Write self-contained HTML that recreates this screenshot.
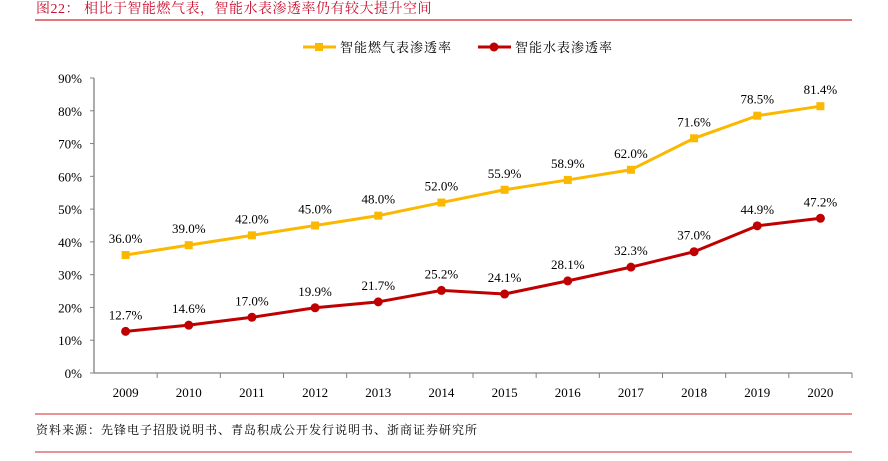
<!DOCTYPE html>
<html><head><meta charset="utf-8"><style>
body{margin:0;background:#fff;width:888px;height:456px;overflow:hidden;font-family:"Liberation Serif","Noto Serif CJK SC",serif}
svg text{font-family:"Liberation Serif","Noto Serif CJK SC",serif}
</style></head><body>
<svg id="c" width="888" height="456">
<text x="36" y="13" font-size="14" fill="#c8102e" letter-spacing="0.5">图22：  相比于智能燃气表，智能水表渗透率仍有较大提升空间</text>
<line x1="35" y1="20" x2="852" y2="20" stroke="#d0282e" stroke-width="1.2"/>
<g>
<g><line x1="303" y1="47" x2="336" y2="47" stroke="#fbb800" stroke-width="3"/><rect x="315" y="43" width="8" height="8" fill="#fbb800"/><text x="340" y="52" font-size="13" letter-spacing="1">智能燃气表渗透率</text></g>
<g><line x1="478" y1="47" x2="511" y2="47" stroke="#c00000" stroke-width="3"/><circle cx="494" cy="47" r="4.5" fill="#c00000"/><text x="515" y="52" font-size="13" letter-spacing="1">智能水表渗透率</text></g>
</g>
<g id="plot"></g>
<line x1="35" y1="414" x2="852" y2="414" stroke="#d0282e" stroke-width="1"/>
<text x="36" y="434" font-size="12" letter-spacing="1">资料来源：先锋电子招股说明书、青岛积成公开发行说明书、浙商证券研究所</text>
<line x1="35" y1="452" x2="852" y2="452" stroke="#d0282e" stroke-width="1"/>
</svg>
<script>
const categories=["2009","2010","2011","2012","2013","2014","2015","2016","2017","2018","2019","2020"];
const gasValues=[36.0,39.0,42.0,45.0,48.0,52.0,55.9,58.9,62.0,71.6,78.5,81.4];
const waterValues=[12.7,14.6,17.0,19.9,21.7,25.2,24.1,28.1,32.3,37.0,44.9,47.2];
const yTicks=[0,10,20,30,40,50,60,70,80,90];
const NS="http://www.w3.org/2000/svg";
const g=document.getElementById("plot");
const x0=94,x1=852,y0=373,yTop=78;
const bw=(x1-x0)/categories.length;
const X=i=>x0+bw*(i+0.5);
const Y=v=>y0-(v/90)*(y0-yTop);
function mk(t,a,txt){const e=document.createElementNS(NS,t);for(const k in a)e.setAttribute(k,a[k]);if(txt!==undefined)e.textContent=txt;g.appendChild(e);return e;}
let e;
e=mk("line",{x1:x0,y1:yTop,x2:x0,y2:y0,stroke:"#808080","stroke-width":1.3});


e=mk("line",{x1:x0,y1:y0,x2:x1,y2:y0,stroke:"#808080","stroke-width":1.3});


yTicks.forEach(v=>{
 e=mk("line",{x1:x0-4,y1:Y(v),x2:x0,y2:Y(v),stroke:"#808080"});
 
 
 e=mk("text",{x:x0-12,y:Y(v)+5,"font-size":13,"text-anchor":"end"},v+"%");
 
 
});
categories.forEach((c,i)=>{
 e=mk("line",{x1:x0+bw*(i+1),y1:y0,x2:x0+bw*(i+1),y2:y0+5,stroke:"#808080"});
 
 
 e=mk("text",{x:X(i),y:y0+24,"font-size":13,"text-anchor":"middle"},c);
 
 
});
function series(vals,color,name,marker){
 e=mk("polyline",{points:vals.map((v,i)=>X(i)+","+Y(v)).join(" "),fill:"none",stroke:color,"stroke-width":3});
 
 
 vals.forEach((v,i)=>{
  if(marker==="sq") e=mk("rect",{x:X(i)-4,y:Y(v)-4,width:8,height:8,fill:color});
  else e=mk("circle",{cx:X(i),cy:Y(v),r:4.5,fill:color});
  
  
  e=mk("text",{x:X(i),y:Y(v)-12,"font-size":13,"text-anchor":"middle"},v.toFixed(1)+"%");
  
  
 });
}
series(gasValues,"#fbb800","gas","sq");
series(waterValues,"#c00000","water","c");
</script>
</body></html>
